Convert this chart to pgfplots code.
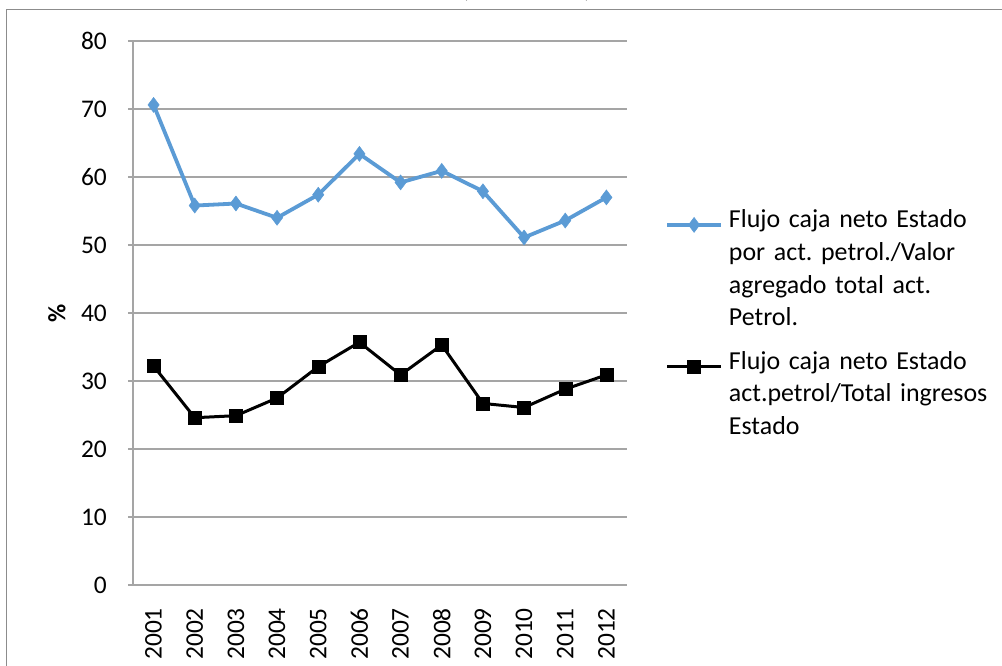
\documentclass[border=0pt]{standalone}
\usepackage{pgfplots}
\pgfplotsset{compat=1.18}
\usepackage{fontspec}
\setmainfont{Carlito}
\frenchspacing
\definecolor{serblue}{RGB}{91,155,213}
\definecolor{gridgray}{RGB}{165,165,165}
\definecolor{framegray}{RGB}{140,140,140}
\begin{document}
\begin{tikzpicture}
\useasboundingbox (-133bp,-81bp) rectangle (869bp,585bp);
\draw[framegray, line width=1bp] (-126bp,-90bp) -- (-126bp,575bp) -- (880bp,575bp);
\node[anchor=base, font=\fontsize{26}{30}\selectfont, text=black!80] at (332bp,587bp) {(};
\node[anchor=base, font=\fontsize{26}{30}\selectfont, text=black!80] at (455bp,587bp) {)};
\begin{axis}[
  at={(0,0)}, anchor=south west,
  scale only axis, width=494bp, height=544bp,
  xmin=-0.5, xmax=11.5, ymin=0, ymax=80,
  ytick={0,10,...,80},
  xtick={0,...,11},
  xticklabels={2001,2002,2003,2004,2005,2006,2007,2008,2009,2010,2011,2012},
  axis x line*=bottom, axis y line*=left,
  axis line style={gridgray, line width=1.2bp},
  ymajorgrids, grid style={gridgray, line width=1.2bp},
  tick align=outside, major tick length=5bp,
  ytick style={gridgray, line width=1.2bp},
  xtick style={draw=none},
  /pgf/number format/assume math mode=true,
  tick label style={font=\fontsize{25.5}{30}\selectfont, text=black},
  yticklabel style={anchor=east, inner sep=0pt},
  yticklabel shift=21bp,
  xticklabel style={rotate=90, anchor=east, inner sep=0pt},
  xticklabel shift=18bp,
  ylabel={\textbf{\%}},
  every axis y label/.style={at={([xshift=-76bp]axis description cs:0,0.5)}, rotate=90, anchor=center, font=\fontsize{25}{30}\selectfont},
  legend image code/.code={\draw[mark repeat=2, mark phase=2, #1] plot coordinates {(0bp,0bp) (27bp,0bp) (54bp,0bp)};},
  legend style={draw=none, fill=none, inner sep=0pt,
    at={(axis description cs:1.0769,0.691)}, anchor=north west,
    cells={anchor=mid west},
    nodes={inner sep=0pt, text depth={}, text width=275bp, align=left, font=\fontsize{26}{33}\selectfont, text=black},
    column sep=6bp, row sep=25bp},
]
\addplot[serblue, line width=3.8bp, mark=diamond*, mark size=7.5bp, mark options={solid, fill=serblue, draw=serblue, line width=0.5bp}]
  coordinates {(0,70.6) (1,55.8) (2,56.1) (3,54.0) (4,57.4) (5,63.4) (6,59.2) (7,60.9) (8,57.9) (9,51.1) (10,53.6) (11,57.0)};
\addlegendentry{Flujo caja neto Estado\\por act. petrol./Valor\\agregado total act.\\Petrol.}
\addplot[black, line width=3bp, mark=square*, mark size=6.5bp, mark options={solid, fill=black, line width=0.5bp}]
  coordinates {(0,32.2) (1,24.6) (2,24.9) (3,27.5) (4,32.1) (5,35.7) (6,30.9) (7,35.3) (8,26.7) (9,26.1) (10,28.8) (11,30.9)};
\addlegendentry{Flujo caja neto Estado\\act.petrol/Total ingresos\\Estado}
\end{axis}
\end{tikzpicture}
\end{document}
